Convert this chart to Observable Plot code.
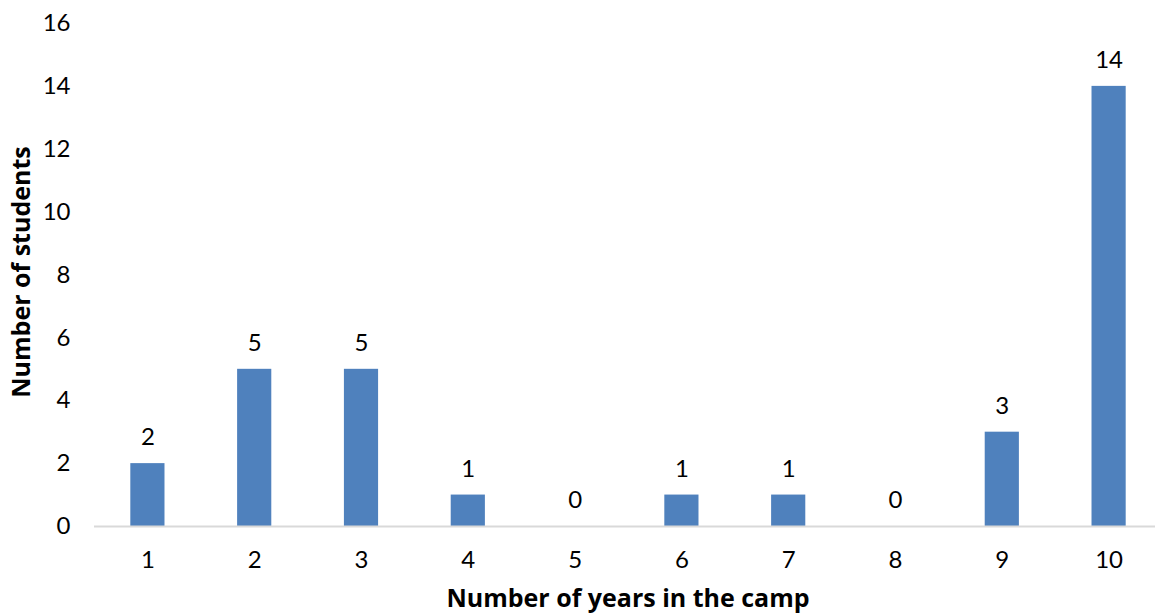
<!DOCTYPE html>
<html>
<head>
<meta charset="utf-8">
<script src="https://cdn.jsdelivr.net/npm/d3@7"></script>
<script src="https://cdn.jsdelivr.net/npm/@observablehq/plot@0.6"></script>
<style>
  html, body { margin: 0; padding: 0; background: #fff; }
  #chart svg { display: block; }
</style>
</head>
<body>
<div id="chart"></div>
<script>
// Years spent in the camp and how many students fall in each group
const years = ["1", "2", "3", "4", "5", "6", "7", "8", "9", "10"];
const students = [2, 5, 5, 1, 0, 1, 1, 0, 3, 14];
const yTicks = [0, 2, 4, 6, 8, 10, 12, 14, 16];
const xTitle = "Number of years in the camp";
const yTitle = "Number of students";

const rows = years.map((year, i) => ({year, count: students[i]}));

const font = "Lato, 'Open Sans', sans-serif";
const titleFont = "'Open Sans', Lato, sans-serif";
const barColor = "#4F81BD";

const chart = Plot.plot({
  width: 1155,
  height: 613,
  marginTop: 23,
  marginBottom: 87,
  marginLeft: 94,
  marginRight: 0,
  style: {fontFamily: font, color: "#000", background: "#fff"},
  x: {domain: years, range: [94, 1162], round: false, paddingInner: 0.68, paddingOuter: 0.34},
  y: {domain: [0, 16]},
  marks: [
    Plot.barY(rows, {x: "year", y: "count", fill: barColor}),
    Plot.ruleY([0], {stroke: "#d9d9d9", strokeWidth: 2}),
    Plot.text(rows, {x: "year", y: "count", text: d => String(d.count), dy: -26, fontSize: 24, fill: "#000"}),
    Plot.axisY({ticks: yTicks, tickSize: 0, tickPadding: 24, fontSize: 24, label: null}),
    Plot.axisX({tickSize: 0, tickPadding: 24, fontSize: 24, label: null}),
    Plot.text([yTitle], {frameAnchor: "left", textAnchor: "middle", lineAnchor: "middle", dx: -73, dy: -3, rotate: -90, fontSize: 25, fontWeight: "bold", fontFamily: titleFont, fill: "#000"}),
    Plot.text([xTitle], {frameAnchor: "bottom", textAnchor: "middle", lineAnchor: "middle", dy: 72, dx: 3, fontSize: 25, fontWeight: "bold", fontFamily: titleFont, fill: "#000"})
  ]
});

document.getElementById("chart").appendChild(chart);
</script>
</body>
</html>
